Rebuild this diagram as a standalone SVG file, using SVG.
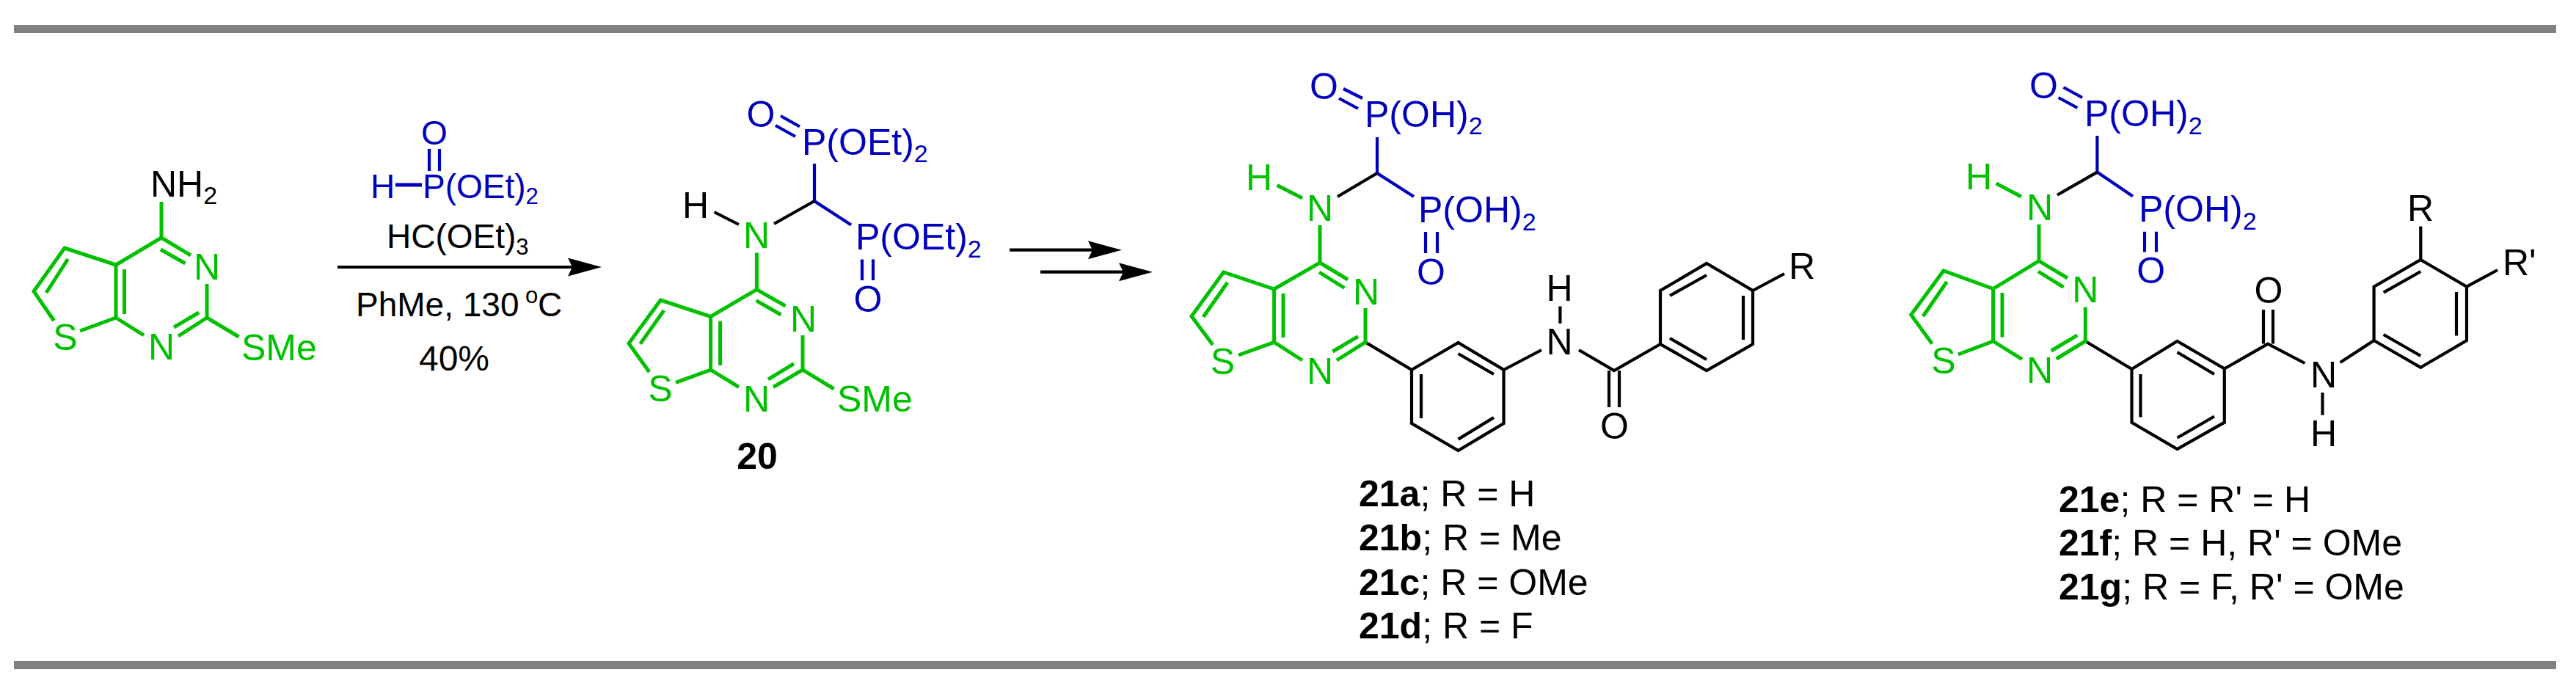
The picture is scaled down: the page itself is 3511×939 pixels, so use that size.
<svg xmlns="http://www.w3.org/2000/svg" width="3511" height="939" viewBox="0 0 3511 939">
<style>
text{font-family:"Liberation Sans",Arial,sans-serif;font-size:50px;fill:#000}
.s{font-size:46px}
.gt{fill:#00c000}.bt{fill:#0000bb}
.m{text-anchor:middle}
.b{font-weight:bold}
.sub{font-size:34px}
.ss{font-size:31px}
path{fill:none;stroke-linecap:butt;stroke-linejoin:miter}
.gb{stroke:#00c000;stroke-width:5}
.kb{stroke:#000;stroke-width:4.2}
.bb{stroke:#0000bb;stroke-width:4.2}
.bar{fill:#808080}
.arrow{stroke:#000;stroke-width:4.2;fill:none}
</style>
<defs>
<marker id="head" markerUnits="userSpaceOnUse" markerWidth="46" markerHeight="25" refX="6" refY="12.5" orient="auto"><polygon points="0,0 46,12.5 0,25 6,12.5" fill="#000"/></marker>
</defs>
<rect class="bar" x="19" y="34" width="3465" height="11"/>
<rect class="bar" x="19" y="901" width="3465" height="11"/>

<g id="compound-19">
<path class="gb" d="M220 275V324L158 361L88 338L46 397L73.5 437M109 451L158 433V361M158 433L196 457M220 324L260 348M219 340L252.5 359M282 387V433L243 458M271 426L237 446M282 433L325.5 459M169.5 367V428M92.6 353L63 399"/>
<text x="205" y="268">NH<tspan class="sub" dy="10">2</tspan></text>
<text class="gt m" x="282" y="381">N</text>
<text class="gt m" x="220" y="490">N</text>
<text class="gt m" x="89" y="477">S</text>
<text class="gt" x="329" y="491">SMe</text>
</g>

<g id="reagent">
<path class="bb" d="M585 203V233M599 203V233"/>
<path d="M539 252H575" style="stroke:#0000bb;stroke-width:5"/>
<text class="s bt m" x="592" y="197">O</text>
<text class="s bt" x="505" y="270">H</text>
<text class="s bt" x="576" y="270">P(OEt)<tspan class="ss" dy="8">2</tspan></text>
<text class="s" x="527" y="338">HC(OEt)<tspan class="ss" dy="9">3</tspan></text>
<text class="s" x="485" y="431">PhMe, 130</text>
<text class="ss" x="716" y="413">o</text>
<text class="s" x="733" y="431">C</text>
<text class="m" x="619" y="505" style="font-size:48px">40%</text>
</g>

<g id="compound-20">
<path class="bb" d="M1064 158L1090 172.5M1057 171L1084 186M1110 223V274L1160 306.5M1175 353.6V382M1190 353.6V382"/>
<path class="kb" d="M1110 274L1055 305M973.5 289L1007 306"/>
<path class="gb" d="M1031.4 344.6V394.6L968.6 431.4L900.4 409L857 468L885 507M921 521.4L968.6 504V431.4M968.6 504L1007 527.5M1031.4 394.6L1070.6 417M1030.6 409.6L1064.5 429M1094 457V504L1054 527.5M1082 495.7L1047 517M1094 504L1136.7 530M981.6 437.5V498M905 423L872.6 468.6"/>
<text class="bt m" x="1037" y="173">O</text>
<text class="bt" x="1093" y="211">P(OEt)<tspan class="sub" dy="10">2</tspan></text>
<text x="930" y="297">H</text>
<text class="gt m" x="1031" y="338">N</text>
<text class="bt" x="1166" y="340">P(OEt)<tspan class="sub" dy="11">2</tspan></text>
<text class="bt m" x="1183" y="425">O</text>
<text class="gt m" x="1095" y="451.5">N</text>
<text class="gt m" x="1031" y="560.5">N</text>
<text class="gt m" x="900" y="547">S</text>
<text class="gt" x="1141" y="561">SMe</text>
<text class="b m" x="1032" y="639">20</text>
</g>

<g id="compound-21a-d">
<path class="bb" d="M1831 121L1857 134M1825 134L1851 148M1877 187V236L1927 268M1943 316V345M1959 316V345"/>
<path class="kb" d="M1877 236L1823 268M1924 504L1987.5 467L2049.5 504V577L1987.5 614L1924 577ZM1987.5 482L2036 510M1937 510V570M1987.5 598.6L2036 569M2049.5 504L2101 477M2126.4 417.5V440.7M2152 477L2200 505L2263 469M2193 505V555M2207 505V555M2263 469V396L2326 359L2389 396V469L2326 505ZM2276 461L2326 490M2276 403L2326 375M2376 403V463M2389 396L2432 373M1861 466.4L1924 504"/>
<path class="gb" d="M1740.6 252.5L1775 270M1799 307V358L1736.6 394L1667.7 371L1624 431L1653 470M1688 484L1736.6 466.4V394M1736.6 466.4L1775 491M1799 358L1837 381M1798 371L1832.5 392.5M1861 420V466.4L1822 491M1851 458.6L1816.4 479M1749 400V460M1673 385L1640 432"/>
<text class="bt m" x="1804.5" y="135">O</text>
<text class="bt" x="1860" y="173">P(OH)<tspan class="sub" dy="10">2</tspan></text>
<text class="gt m" x="1716" y="259">H</text>
<text class="gt m" x="1799" y="301">N</text>
<text class="bt" x="1933" y="303">P(OH)<tspan class="sub" dy="11">2</tspan></text>
<text class="bt m" x="1950.5" y="387.5">O</text>
<text class="gt m" x="1862" y="414.5">N</text>
<text class="gt m" x="1799" y="523">N</text>
<text class="gt m" x="1666.5" y="510">S</text>
<text class="m" x="2125.5" y="483">N</text>
<text class="m" x="2125.5" y="410">H</text>
<text class="m" x="2200.5" y="598">O</text>
<text x="2438" y="380">R</text>
</g>

<g id="labels-21a-d">
<text x="1852" y="690"><tspan class="b">21a</tspan>; R = H</text>
<text x="1852" y="750"><tspan class="b">21b</tspan>; R = Me</text>
<text x="1852" y="810.5"><tspan class="b">21c</tspan>; R = OMe</text>
<text x="1852" y="870"><tspan class="b">21d</tspan>; R = F</text>
</g>

<g id="compound-21e-g">
<path class="bb" d="M2812.5 119L2838 133M2805.6 133L2831.4 147M2858.4 185V234.6L2907 267.5M2923 315.7V343.6M2939 315.7V343.6"/>
<path class="kb" d="M2858.4 234.6L2804 265.7M2905.5 503L2967.5 465L3031.8 502.5V575.7L2967.5 612L2905.5 575.7ZM2967.5 480L3018 510M2917.5 510V568.6M2967.5 596.8L3018 567.5M3031.8 502.5L3091 468.6L3141.4 495M3085 422V468.6M3098 422V468.6M3165.5 535V565.7M3189.6 494L3235.6 464V390.7L3299.3 354L3362 390.7V464L3299.3 500.7L3235.6 464M3248.7 456L3299.3 485M3248.7 398.6L3299.3 370M3348 398V457.5M3299.3 354V308.6M3362 390.7L3404 368M2842.3 465L2905.5 503"/>
<path class="gb" d="M2720.6 250L2755 268M2779 305.7V355.7L2716.6 393.6L2649 369L2604.7 429L2633.4 468.6M2669 483L2716.6 465V393.6M2716.6 465L2756 489.6M2779 355.7L2818 379M2778 370L2812.5 391.4M2842.3 418.6V465L2802.7 489M2831.4 456.8L2795.8 478M2729 399V459.6M2653.5 384L2621 431"/>
<text class="bt m" x="2785.5" y="134">O</text>
<text class="bt" x="2841" y="172">P(OH)<tspan class="sub" dy="11">2</tspan></text>
<text class="gt m" x="2697" y="257.5">H</text>
<text class="gt m" x="2780" y="299.6">N</text>
<text class="bt" x="2915" y="302">P(OH)<tspan class="sub" dy="11">2</tspan></text>
<text class="bt m" x="2931.6" y="386">O</text>
<text class="gt m" x="2842.3" y="412">N</text>
<text class="gt m" x="2780" y="521.8">N</text>
<text class="gt m" x="2649" y="508.6">S</text>
<text class="m" x="3092" y="413">O</text>
<text class="m" x="3167" y="528">N</text>
<text class="m" x="3167" y="608">H</text>
<text x="3281" y="301">R</text>
<text x="3411" y="375">R'</text>
</g>

<g id="labels-21e-g">
<text x="2806" y="697.5"><tspan class="b">21e</tspan>; R = R' = H</text>
<text x="2806" y="757"><tspan class="b">21f</tspan>; R = H, R' = OMe</text>
<text x="2806" y="816.5"><tspan class="b">21g</tspan>; R = F, R' = OMe</text>
</g>

<g id="connectors">
<line class="arrow" x1="460" y1="364" x2="780" y2="364" marker-end="url(#head)"/>
<line class="arrow" x1="1376" y1="340.7" x2="1489" y2="340.7" marker-end="url(#head)"/>
<line class="arrow" x1="1418" y1="370.7" x2="1531" y2="370.7" marker-end="url(#head)"/>
</g>
</svg>
